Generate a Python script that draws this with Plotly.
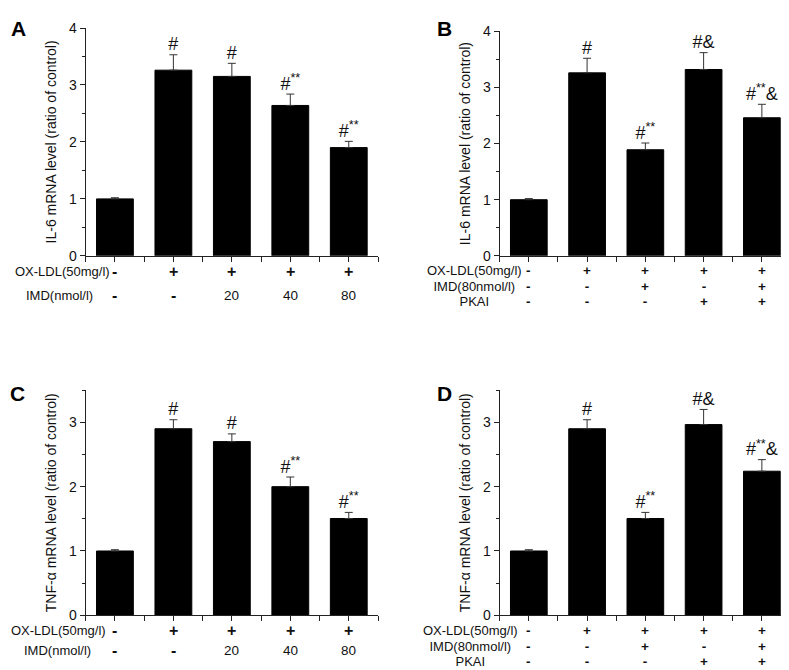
import plotly.graph_objects as go

# ---------------- data ----------------
groups = [0, 1, 2, 3, 4]

il6_dose = [1.00, 3.26, 3.15, 2.64, 1.90]
il6_dose_err = [0.02, 0.27, 0.23, 0.20, 0.11]

il6_pkai = [1.00, 3.26, 1.89, 3.32, 2.46]
il6_pkai_err = [0.02, 0.26, 0.12, 0.30, 0.24]

tnf_dose = [1.00, 2.90, 2.70, 2.00, 1.505]
tnf_dose_err = [0.02, 0.14, 0.12, 0.15, 0.095]

tnf_pkai = [1.00, 2.90, 1.505, 2.965, 2.24]
tnf_pkai_err = [0.02, 0.14, 0.095, 0.235, 0.18]

sig_dose = ["", "#", "#", "#<sup>**</sup>", "#<sup>**</sup>"]
sig_pkai = ["", "#", "#<sup>**</sup>", "#&", "#<sup>**</sup>&"]

oxldl_row = ["-", "+", "+", "+", "+"]
imd_dose_row = ["-", "-", "20", "40", "80"]
imd_row = ["-", "-", "+", "-", "+"]
pkai_row = ["-", "-", "-", "+", "+"]

il6_title = "IL-6 mRNA level (ratio of control)"
tnf_title = "TNF-α mRNA level (ratio of control)"

# ---------------- layout helpers ----------------
W, H = 789, 670
FONT = "Liberation Sans, Arial, sans-serif"


def px(x):
    return x / W


def py(y):
    return 1 - y / H


def sign_html(s, size):
    if s in ("+", "-"):
        return '<span style="font-size:%spx"><b>%s</b></span>' % (size, s)
    return '<span style="font-size:13.5px">%s</span>' % s


panels = [
    dict(letter="A", ax="", vals=il6_dose, err=il6_dose_err, sig=sig_dose,
         title=il6_title, xdom=[px(77.7), px(370)], ydom=[py(245.7), py(12.3)],
         yrange=[0, 4], letter_pos=(10.5, 13), stacked=False,
         rows=[("OX-LDL(50mg/l)", oxldl_row, 262, 55),
               ("IMD(nmol/l)", imd_dose_row, 286, 51)]),
    dict(letter="B", ax="2", vals=il6_pkai, err=il6_pkai_err, sig=sig_pkai,
         title=il6_title, xdom=[px(491.7), px(783)], ydom=[py(245.7), py(15.7)],
         yrange=[0, 4], letter_pos=(436, 13), stacked=True,
         rows_mid=277, rows_x=466,
         rows=[("OX-LDL(50mg/l)", oxldl_row),
               ("IMD(80nmol/l)", imd_row),
               ("PKAI", pkai_row)]),
    dict(letter="C", ax="3", vals=tnf_dose, err=tnf_dose_err, sig=sig_dose,
         title=tnf_title, xdom=[px(77.7), px(370)], ydom=[py(614), py(383.3)],
         yrange=[0, 3.5], letter_pos=(9.5, 387), stacked=False,
         rows=[("OX-LDL(50mg/l)", oxldl_row, 630, 50),
               ("IMD(nmol/l)", imd_dose_row, 650.5, 49)]),
    dict(letter="D", ax="4", vals=tnf_pkai, err=tnf_pkai_err, sig=sig_pkai,
         title=tnf_title, xdom=[px(491.7), px(783)], ydom=[py(614), py(383.3)],
         yrange=[0, 3.5], letter_pos=(436, 387), stacked=True,
         rows_mid=645, rows_x=463,
         rows=[("OX-LDL(50mg/l)", oxldl_row),
               ("IMD(80nmol/l)", imd_row),
               ("PKAI", pkai_row)]),
]

fig = go.Figure()
annotations = []
layout_axes = {}

for p in panels:
    ax = p["ax"]
    xname, yname = "x" + ax, "y" + ax
    fig.add_trace(go.Bar(
        x=groups, y=p["vals"], xaxis=xname, yaxis=yname,
        width=0.63,
        marker=dict(color="black", line=dict(color="black", width=1)),
        error_y=dict(type="data", symmetric=False, array=p["err"],
                     arrayminus=[0] * len(p["err"]),
                     color="#333333", thickness=1, width=4),
        showlegend=False, hoverinfo="skip",
    ))

    # significance marks as a text trace sitting on top of the error bars
    tops = [v + e for v, e in zip(p["vals"], p["err"])]
    fig.add_trace(go.Scatter(
        x=groups, y=tops, xaxis=xname, yaxis=yname,
        mode="text", text=p["sig"], textposition="top center",
        textfont=dict(family=FONT, size=18, color="#111"),
        showlegend=False, hoverinfo="skip", cliponaxis=False,
    ))

    layout_axes["xaxis" + ax] = dict(
        domain=p["xdom"], anchor=yname, range=[-0.5, 4.5],
        tickmode="array", tickvals=[-0.5 + 0.5 * i for i in range(11)],
        showticklabels=False, ticks="outside", ticklen=5, tickwidth=1,
        tickcolor="#222", showline=True, linecolor="#222", linewidth=1,
        showgrid=False, zeroline=False, fixedrange=True,
    )
    layout_axes["yaxis" + ax] = dict(
        domain=p["ydom"], anchor=xname, range=p["yrange"],
        tickmode="linear", tick0=0, dtick=1,
        ticks="outside", ticklen=5, tickwidth=1, tickcolor="#222",
        minor=dict(dtick=0.5, ticks="outside", ticklen=3, tickcolor="#222",
                   showgrid=False),
        showline=True, linecolor="#222", linewidth=1,
        showgrid=False, zeroline=False,
        tickfont=dict(family=FONT, size=14, color="#111"),
        title=dict(text=p["title"], standoff=9,
                   font=dict(family=FONT, size=14, color="#111")),
        fixedrange=True,
    )

    # treatment rows beneath the axis
    if not p["stacked"]:
        for label, signs, ypix, xcenter in p["rows"]:
            annotations.append(dict(
                x=px(xcenter), y=py(ypix), xref="paper", yref="paper",
                text=label, showarrow=False, xanchor="center",
                yanchor="middle",
                font=dict(family=FONT, size=13, color="#111"),
            ))
            for g, s in zip(groups, signs):
                annotations.append(dict(
                    x=g, y=py(ypix), xref=xname, yref="paper",
                    text=sign_html(s, 16), showarrow=False,
                    xanchor="center", yanchor="middle",
                    font=dict(family=FONT, size=13, color="#111"),
                ))
    else:
        # three tightly spaced rows: one multi-line text per column
        labels = "<br>".join(
            '<span style="font-size:13px">%s</span>' % r[0] for r in p["rows"])
        annotations.append(dict(
            x=px(p["rows_x"]), y=py(p["rows_mid"]), xref="paper",
            yref="paper", text=labels, showarrow=False, align="center",
            xanchor="center", yanchor="middle",
            font=dict(family=FONT, size=12, color="#111"),
        ))
        for g in groups:
            col = "<br>".join(sign_html(r[1][g], 13.5) for r in p["rows"])
            annotations.append(dict(
                x=g, y=py(p["rows_mid"]), xref=xname, yref="paper",
                text=col, showarrow=False, align="center",
                xanchor="center", yanchor="middle",
                font=dict(family=FONT, size=12, color="#111"),
            ))

    # panel letter
    lx, ly = p["letter_pos"]
    annotations.append(dict(
        x=px(lx), y=py(ly), xref="paper", yref="paper",
        text="<b>%s</b>" % p["letter"], showarrow=False,
        xanchor="center", yanchor="middle",
        font=dict(family=FONT, size=21, color="black"),
    ))

fig.update_layout(
    width=W, height=H,
    margin=dict(l=0, r=0, t=0, b=0),
    paper_bgcolor="white", plot_bgcolor="white",
    font=dict(family=FONT, size=13, color="#111"),
    annotations=annotations,
    **layout_axes,
)

fig.write_html("out.html")
